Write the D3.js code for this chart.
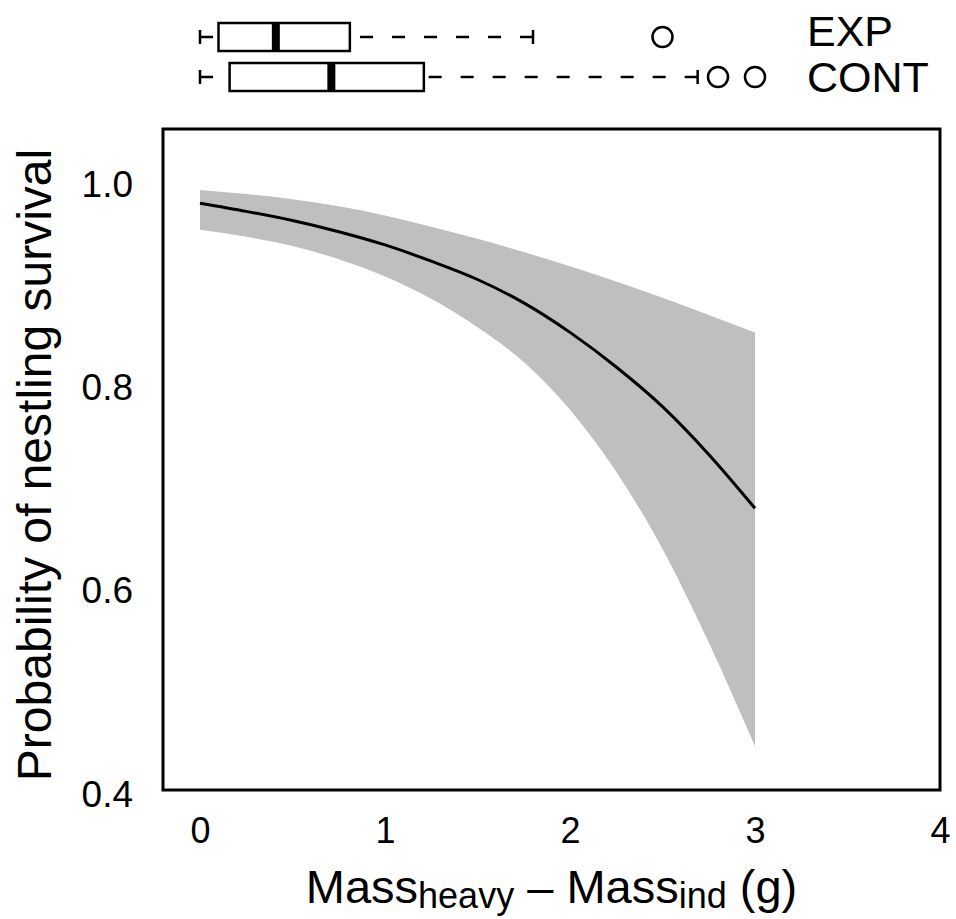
<!DOCTYPE html>
<html>
<head>
<meta charset="utf-8">
<script src="https://d3js.org/d3.v7.min.js"></script>
<style>
  body { margin: 0; background: #fff; }
  text { font-family: "Liberation Sans", Arial, sans-serif; fill: #000; }
</style>
</head>
<body>
<div class="chart"></div>
<script>
// fitted survival curve with its confidence band
var xVals   = [0, 0.25, 0.5, 0.75, 1, 1.25, 1.5, 1.75, 2, 2.25, 2.5, 2.75, 3];
var fitVals = [0.977, 0.969, 0.960, 0.949, 0.936, 0.920, 0.902, 0.879, 0.850, 0.816, 0.777, 0.730, 0.677];
var upperCI = [0.990, 0.986, 0.981, 0.974, 0.965, 0.954, 0.942, 0.929, 0.915, 0.900, 0.884, 0.867, 0.850];
var lowerCI = [0.951, 0.944, 0.935, 0.922, 0.905, 0.883, 0.855, 0.821, 0.774, 0.713, 0.637, 0.545, 0.443];

// boxplots of mass difference per treatment
var groups   = ["EXP", "CONT"];
var boxLow   = [0.00, 0.00];
var boxQ1    = [0.10, 0.16];
var boxMed   = [0.41, 0.71];
var boxQ3    = [0.81, 1.21];
var boxHigh  = [1.80, 2.69];
var outliers = [[2.50], [2.80, 3.00]];

var xTicks = [0, 1, 2, 3, 4];
var yTicks = [0.4, 0.6, 0.8, 1.0];

(function() {
    var w = 956, h = 919;
    var pl = 163, pr = 940, pt = 129, pb = 790;   // plot frame edges

    var x = d3.scaleLinear().domain([-0.2, 4]).range([pl, pr]);
    var y = d3.scaleLinear().domain([0.4, 1.05]).range([pb, pt]);
    var gy = d3.scalePoint().domain(groups).range([37, 77]);

    var svg = d3.select("div.chart").append("svg")
        .attr("width", w)
        .attr("height", h);

    // band
    var band = d3.area()
        .x(function(d, i) { return x(xVals[i]); })
        .y0(function(d, i) { return y(lowerCI[i]); })
        .y1(function(d, i) { return y(upperCI[i]); })
        .curve(d3.curveMonotoneX);
    svg.append("path")
        .datum(xVals)
        .attr("d", band)
        .attr("fill", "#bfbfbf");

    // fitted line
    var line = d3.line()
        .x(function(d, i) { return x(xVals[i]); })
        .y(function(d, i) { return y(fitVals[i]); })
        .curve(d3.curveMonotoneX);
    svg.append("path")
        .datum(xVals)
        .attr("d", line)
        .attr("fill", "none")
        .attr("stroke", "#000")
        .attr("stroke-width", 3);

    // plot frame
    svg.append("rect")
        .attr("x", pl).attr("y", pt)
        .attr("width", pr - pl).attr("height", pb - pt)
        .attr("fill", "none")
        .attr("stroke", "#000")
        .attr("stroke-width", 3);

    // axes (labels only, no tick marks)
    var xAxis = d3.axisBottom(x).tickValues(xTicks).tickSize(0).tickPadding(27)
        .tickFormat(d3.format("d"));
    var gx = svg.append("g").attr("transform", "translate(0," + pb + ")").call(xAxis);
    gx.select(".domain").remove();
    gx.selectAll("text").attr("font-size", "36px")
        .attr("font-family", "Liberation Sans, Arial, sans-serif");

    var yAxis = d3.axisLeft(y).tickValues(yTicks).tickSize(0).tickPadding(30)
        .tickFormat(d3.format(".1f"));
    var gyAxis = svg.append("g").attr("transform", "translate(" + pl + ",0)").call(yAxis);
    gyAxis.select(".domain").remove();
    gyAxis.selectAll("text").attr("font-size", "37px").attr("dy", "0.44em")
        .attr("font-family", "Liberation Sans, Arial, sans-serif");

    // axis titles
    svg.append("text")
        .attr("transform", "translate(51,465) rotate(-90)")
        .attr("text-anchor", "middle")
        .attr("font-size", "48px")
        .text("Probability of nestling survival");

    var xt = svg.append("text")
        .attr("x", (pl + pr) / 2)
        .attr("y", 903)
        .attr("text-anchor", "middle")
        .attr("font-size", "47px");
    xt.append("tspan").text("Mass");
    xt.append("tspan").attr("font-size", "36px").attr("dy", 5).text("heavy");
    xt.append("tspan").attr("dy", -5).text(" \u2013 Mass");
    xt.append("tspan").attr("font-size", "36px").attr("dy", 5).text("ind");
    xt.append("tspan").attr("dy", -5).text(" (g)");

    // boxplots
    var bh = 28;
    var bp = svg.selectAll("g.box")
        .data(groups)
        .enter()
        .append("g")
        .attr("class", "box");

    bp.append("line") // upper whisker, drawn from its end back to the box
        .attr("x1", function(d, i) { return x(boxHigh[i]); })
        .attr("x2", function(d, i) { return x(boxQ3[i]); })
        .attr("y1", function(d) { return gy(d); })
        .attr("y2", function(d) { return gy(d); })
        .attr("stroke", "#000").attr("stroke-width", 2.5)
        .attr("stroke-dasharray", "13,19");
    bp.append("line") // lower whisker
        .attr("x1", function(d, i) { return x(boxLow[i]); })
        .attr("x2", function(d, i) { return x(boxQ1[i]); })
        .attr("y1", function(d) { return gy(d); })
        .attr("y2", function(d) { return gy(d); })
        .attr("stroke", "#000").attr("stroke-width", 2.5)
        .attr("stroke-dasharray", "13,19");

    [boxLow, boxHigh].forEach(function(arr) {
        bp.append("line")
            .attr("x1", function(d, i) { return x(arr[i]); })
            .attr("x2", function(d, i) { return x(arr[i]); })
            .attr("y1", function(d) { return gy(d) - 7; })
            .attr("y2", function(d) { return gy(d) + 7; })
            .attr("stroke", "#000").attr("stroke-width", 2.5);
    });

    bp.append("rect")
        .attr("x", function(d, i) { return x(boxQ1[i]); })
        .attr("y", function(d) { return gy(d) - bh / 2; })
        .attr("width", function(d, i) { return x(boxQ3[i]) - x(boxQ1[i]); })
        .attr("height", bh)
        .attr("fill", "#fff")
        .attr("stroke", "#000").attr("stroke-width", 2.5);

    bp.append("line")
        .attr("x1", function(d, i) { return x(boxMed[i]); })
        .attr("x2", function(d, i) { return x(boxMed[i]); })
        .attr("y1", function(d) { return gy(d) - bh / 2 + 1; })
        .attr("y2", function(d) { return gy(d) + bh / 2 - 1; })
        .attr("stroke", "#000").attr("stroke-width", 8);

    bp.each(function(d, i) {
        d3.select(this).selectAll("circle")
            .data(outliers[i])
            .enter()
            .append("circle")
            .attr("cx", function(v) { return x(v); })
            .attr("cy", gy(d))
            .attr("r", 10)
            .attr("fill", "none")
            .attr("stroke", "#000").attr("stroke-width", 2.5);
    });

    bp.append("text")
        .attr("x", 807)
        .attr("y", function(d, i) { return gy(d) + (i === 0 ? 9 : 15); })
        .attr("font-size", "43px")
        .text(function(d) { return d; });
})();
</script>
</body>
</html>
